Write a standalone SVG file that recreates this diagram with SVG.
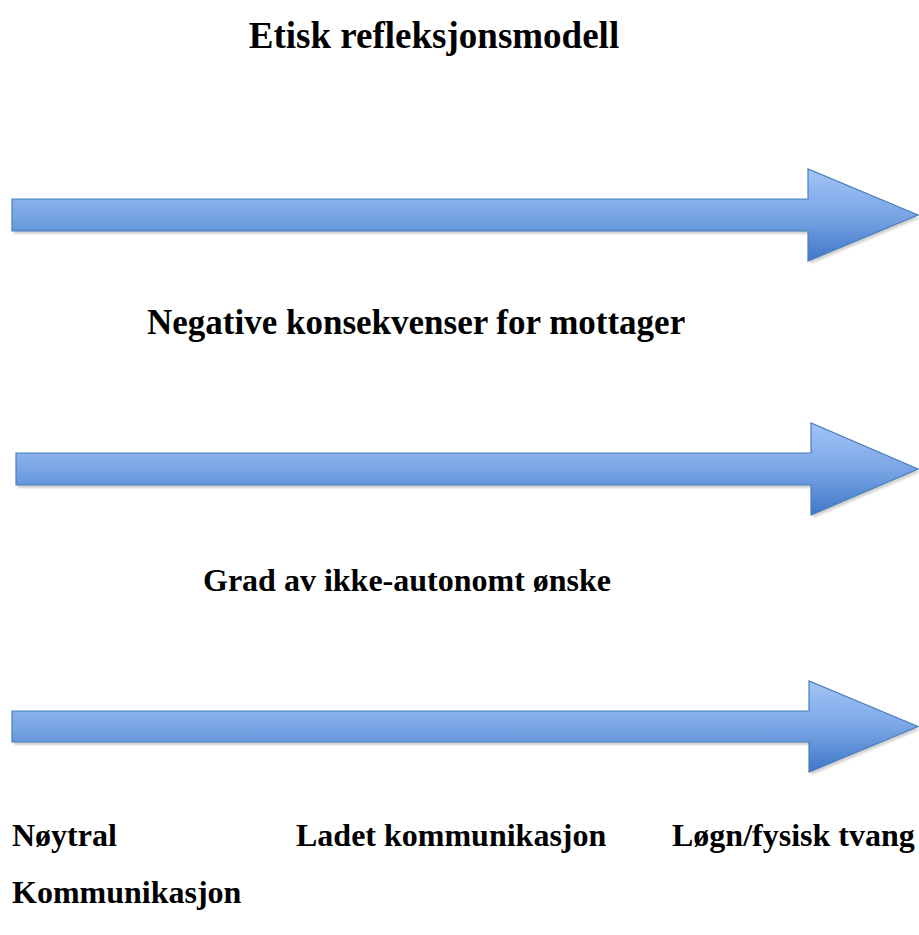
<svg xmlns="http://www.w3.org/2000/svg" width="919" height="935" viewBox="0 0 919 935">
<style>
text{font-family:'Liberation Serif','Times New Roman',Tinos,'DejaVu Serif',serif;font-weight:700;font-size:32px;fill:#000}
text.title{font-size:37px}
text.big{font-size:35px}
.arrow{fill:url(#g);stroke:#4a7ebb;stroke-width:1.2}
.shadow{fill:#000;opacity:0.18}
</style>
<defs>
<linearGradient id="g" x1="0" y1="0" x2="0" y2="1">
<stop offset="0" stop-color="#a3c4f7"/>
<stop offset="0.5" stop-color="#7aa6e6"/>
<stop offset="1" stop-color="#3f77c7"/>
</linearGradient>
<filter id="blur" x="-5%" y="-20%" width="110%" height="140%"><feGaussianBlur stdDeviation="1"/></filter>
</defs>
<rect width="919" height="935" fill="#fff"/>
<text id="title" class="title" x="434" y="48" text-anchor="middle">Etisk refleksjonsmodell</text>
<g id="connectors">
<g id="arrow1">
<path class="shadow" filter="url(#blur)" transform="translate(2,3)" d="M12,199 H808 V169 L918,215 L808,261 V231 H12 Z"/>
<path class="arrow" d="M12,199 H808 V169 L918,215 L808,261 V231 H12 Z"/>
</g>
<g id="arrow2">
<path class="shadow" filter="url(#blur)" transform="translate(2,3)" d="M16,453 H811 V423 L918,469 L811,515 V485 H16 Z"/>
<path class="arrow" d="M16,453 H811 V423 L918,469 L811,515 V485 H16 Z"/>
</g>
<g id="arrow3">
<path class="shadow" filter="url(#blur)" transform="translate(2,3)" d="M12,711 H809 V681 L918,726.5 L809,772 V742 H12 Z"/>
<path class="arrow" d="M12,711 H809 V681 L918,726.5 L809,772 V742 H12 Z"/>
</g>
</g>
<g id="label-negative"><text class="big" x="147" y="334">Negative konsekvenser for mottager</text></g>
<g id="label-grad"><text x="203" y="591">Grad av ikke-autonomt ønske</text></g>
<g id="label-noytral"><text x="12" y="846">Nøytral</text><text x="12" y="903">Kommunikasjon</text></g>
<g id="label-ladet"><text x="296" y="846">Ladet kommunikasjon</text></g>
<g id="label-logn"><text x="672" y="846">Løgn/fysisk tvang</text></g>
</svg>
